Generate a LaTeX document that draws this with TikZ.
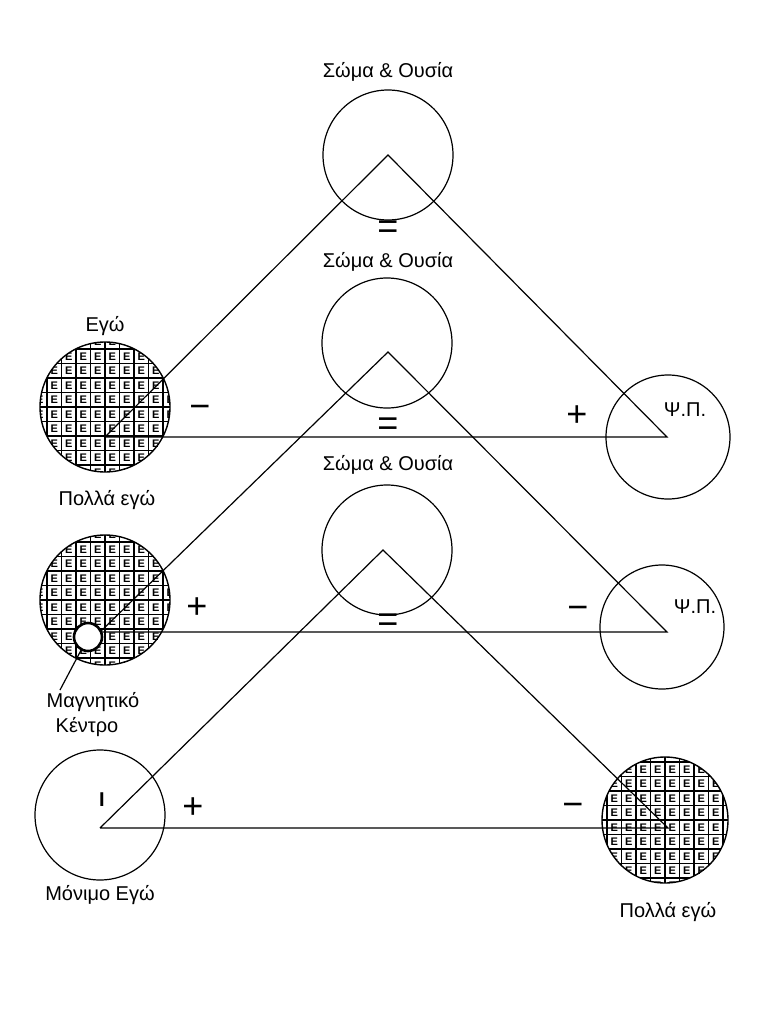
\documentclass[tikz,border=0pt]{standalone}
\usepackage{fontspec}
\setmainfont{Liberation Sans}
\begin{document}
\begin{tikzpicture}[x=1pt,y=-1pt,line width=1.2pt,
 lbl/.style={font=\fontsize{20}{22}\selectfont},
 sym/.style={font=\fontsize{36}{36}\selectfont},
 circ/.style={circle,draw,line width=1.2pt,inner sep=0pt}]
\useasboundingbox (0,0) rectangle (760,1028);
\newcommand\gridcirc[3]{%
 \begin{scope}
 \clip (#1,#2) circle (#3);
 \foreach \i in {-5,...,5}{
   \draw[line width=1.3pt] (#1+\i*14.5,#2-#3) -- (#1+\i*14.5,#2+#3);
   \draw[line width=1.3pt] (#1-#3,#2+\i*14.5) -- (#1+#3,#2+\i*14.5);}
 \foreach \i in {-5,...,4}{\foreach \j in {-5,...,4}{
   \node[font=\fontsize{11}{11}\selectfont\bfseries,inner sep=0pt] at (#1+\i*14.5+7.25,#2+\j*14.5+7.25) {E};}}
 \end{scope}
 \draw[line width=1.4pt] (#1,#2) circle (#3);}
% top group
\node[circ,minimum size=130pt] (c1) at (388,155) {};
\node[lbl] (t1) at (388,72) {Σώμα \& Ουσία};
\gridcirc{105}{407}{65}
\node[lbl] (e1) at (105,326) {Εγώ};
\node[lbl] (p1) at (107,500) {Πολλά εγώ};
\node[circ,minimum size=124pt] (r1) at (668,437) {};
\node[lbl] at (685,410) {Ψ.Π.};
\coordinate (a1) at (388,155); \coordinate (l1) at (105,437); \coordinate (b1) at (667,437);
\draw (l1) -- (a1) -- (b1) -- (l1);
\node[sym] at (200,412) {−};
\node[sym] at (577,416) {+};
\node[sym] at (388,230) {=};
% middle group
\node[lbl] (t2) at (388,262) {Σώμα \& Ουσία};
\node[circ,minimum size=130pt] (c2) at (387,343) {};
\gridcirc{105}{600}{65}
\node[circ,minimum size=124pt] (r2) at (662,627) {};
\node[lbl] at (695,607) {Ψ.Π.};
\coordinate (a2) at (388,352); \coordinate (l2) at (100,632); \coordinate (b2) at (667,632);
\draw (l2) -- (a2) -- (b2) -- (l2);
\node[circle,draw,fill=white,line width=2.6pt,minimum size=28pt,inner sep=0pt] (mk) at (88,637) {};
\coordinate (mkend) at (60,690);
\draw (mk) -- (mkend);
\node[lbl] at (93,702) {Μαγνητικό};
\node[lbl] at (87,727) {Κέντρο};
\node[sym] at (197,608) {+};
\node[sym] at (578,613) {−};
\node[sym] at (388,427) {=};
% bottom group
\node[lbl] (t3) at (388,465) {Σώμα \& Ουσία};
\node[circ,minimum size=130pt] (c3) at (387,550) {};
\node[circ,minimum size=130pt] (l3c) at (100,815) {};
\node[font=\fontsize{20}{20}\selectfont\bfseries] at (102,800) {I};
\gridcirc{665}{820}{63}
\coordinate (a3) at (383,550); \coordinate (l3) at (100,828); \coordinate (b3) at (668,828);
\draw (l3) -- (a3) -- (b3) -- (l3);
\node[sym] at (193,808) {+};
\node[sym] at (573,810) {−};
\node[sym] at (388,623) {=};
\node[lbl] at (100,895) {Μόνιμο Εγώ};
\node[lbl] at (668,912) {Πολλά εγώ};
\end{tikzpicture}
\end{document}
